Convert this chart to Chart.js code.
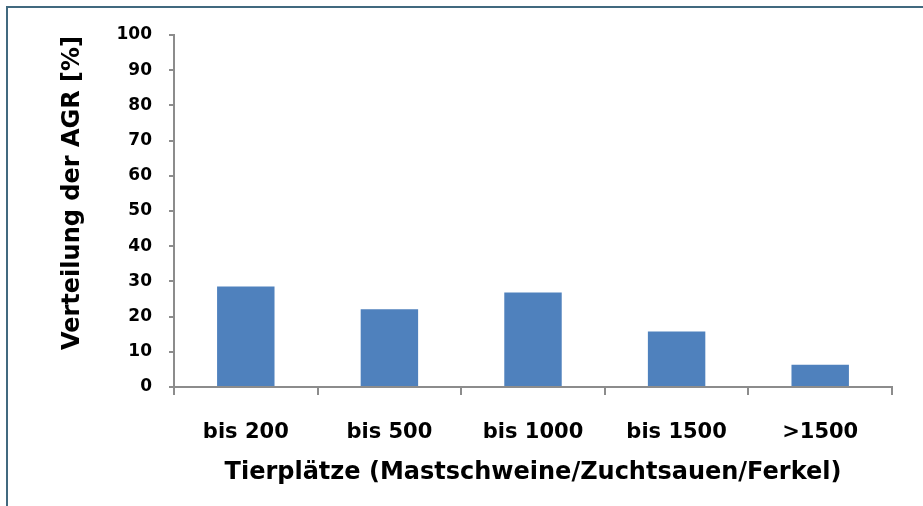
<!DOCTYPE html>
<html>
<head>
<meta charset="utf-8">
<script src="https://cdn.jsdelivr.net/npm/chart.js@4/dist/chart.umd.min.js"></script>
<style>
  html, body { margin: 0; padding: 0; background: #ffffff; overflow: hidden; }
  #wrap { position: relative; width: 923px; height: 506px; }
  #frame { position: absolute; left: 6px; top: 6px; width: 1000px; height: 1000px;
           border: 2px solid #41697f; box-sizing: border-box; pointer-events: none; }
  canvas { position: absolute; left: 0; top: 0; }
</style>
</head>
<body>
<div id="wrap">
  <canvas id="c" width="923" height="506"></canvas>
  <div id="frame"></div>
</div>
<script>
const categories = ['bis 200', 'bis 500', 'bis 1000', 'bis 1500', '>1500'];
const values = [28.55, 22.1, 26.85, 15.8, 6.3];
const yTicks = [0, 10, 20, 30, 40, 50, 60, 70, 80, 90, 100];
const xTitle = 'Tierplätze (Mastschweine/Zuchtsauen/Ferkel)';
const yTitle = 'Verteilung der AGR [%]';

const FONT = "'DejaVu Sans', sans-serif";
const axisColor = '#8c8c8c';

// shift the y-axis title slightly upward, as in the reference
const shiftYTitle = {
  id: 'shiftYTitle',
  afterLayout(chart) {
    const s = chart.scales.y;
    if (s && !s._shifted) {
      const orig = s.drawTitle;
      s.drawTitle = function () {
        const ctx = this.ctx;
        ctx.save();
        ctx.translate(0, -18);
        orig.apply(this, arguments);
        ctx.restore();
      };
      s._shifted = true;
    }
  }
};

new Chart(document.getElementById('c'), {
  type: 'bar',
  data: {
    labels: categories,
    datasets: [{
      data: values,
      backgroundColor: '#4f81bd',
      borderWidth: 0,
      barPercentage: 0.4,
      categoryPercentage: 1.0
    }]
  },
  plugins: [shiftYTitle],
  options: {
    responsive: false,
    animation: false,
    layout: { padding: { left: 0, right: 31, top: 35, bottom: 0 } },
    plugins: { legend: { display: false }, tooltip: { enabled: false } },
    scales: {
      x: {
        afterFit: (s) => { s.height = 119; },
        grid: { display: true, drawOnChartArea: false, drawTicks: true, tickLength: 8,
                color: axisColor, lineWidth: 2, offset: true },
        border: { display: true, color: axisColor, width: 2 },
        ticks: { color: '#000', padding: 25, font: { family: FONT, size: 21, weight: 'bold' } },
        title: { display: true, text: xTitle, color: '#000',
                 padding: { top: 0, bottom: 18.6 },
                 font: { family: FONT, size: 24, weight: 'bold' } }
      },
      y: {
        min: 0, max: 100,
        afterFit: (s) => { s.width = 174; },
        afterBuildTicks: (s) => { s.ticks = yTicks.map(v => ({ value: v })); },
        grid: { display: true, drawOnChartArea: false, drawTicks: true, tickLength: 5,
                color: axisColor, lineWidth: 2 },
        border: { display: true, color: axisColor, width: 2 },
        ticks: { color: '#000', padding: 17, font: { family: FONT, size: 17, weight: 'bold' } },
        title: { display: true, text: yTitle, color: '#000',
                 padding: { top: 58.6, bottom: 0 },
                 font: { family: FONT, size: 24, weight: 'bold' } }
      }
    }
  }
});
</script>
</body>
</html>
